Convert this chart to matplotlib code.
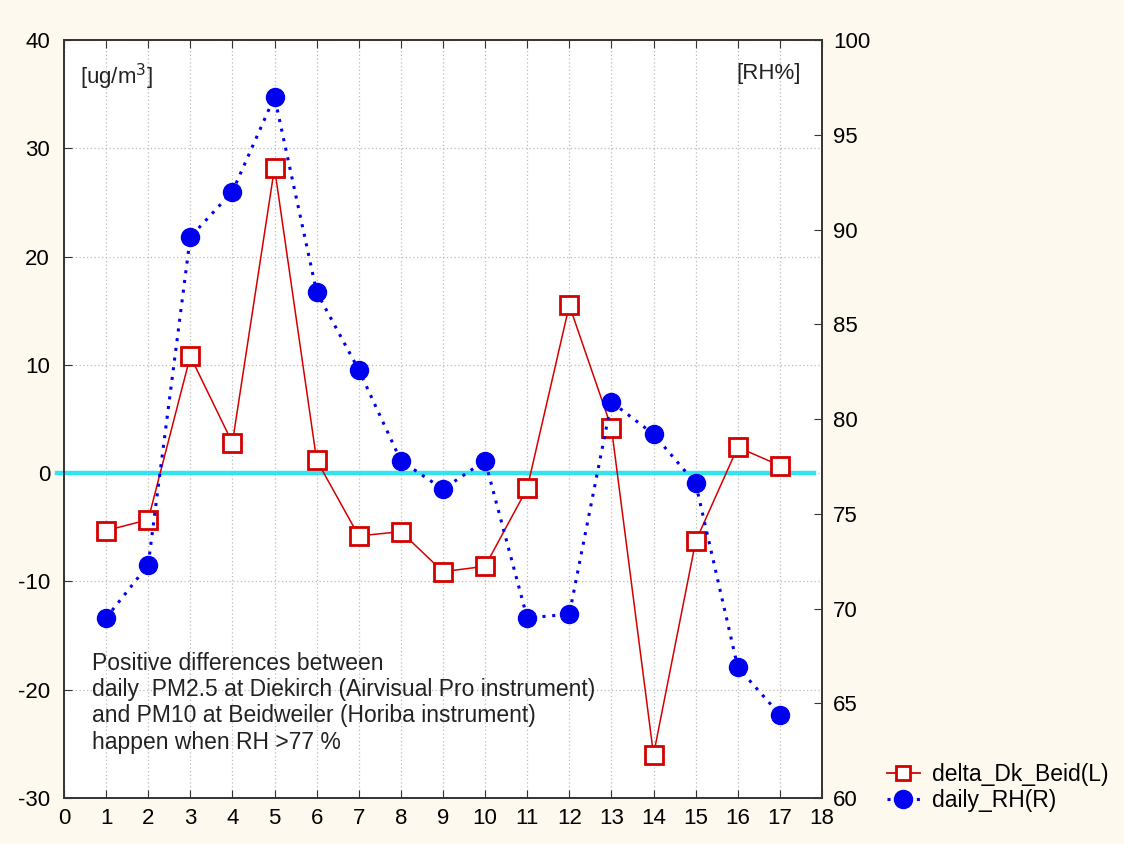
import matplotlib
matplotlib.use("Agg")
import matplotlib.pyplot as plt
from matplotlib.lines import Line2D

plt.rcParams['font.family'] = ['Liberation Sans', 'DejaVu Sans']
plt.rcParams['axes.unicode_minus'] = False

days = list(range(1, 18))
delta_dk_beid = [-5.3, -4.3, 10.8, 2.8, 28.2, 1.2, -5.8, -5.4, -9.1, -8.6,
                 -1.4, 15.5, 4.2, -26.0, -6.3, 2.4, 0.7]
daily_rh = [69.5, 72.3, 89.6, 92.0, 97.0, 86.7, 82.6, 77.8, 76.3, 77.8,
            69.5, 69.7, 80.9, 79.2, 76.6, 66.9, 64.4]
x_ticks = list(range(0, 19))
left_ticks = [-30, -20, -10, 0, 10, 20, 30, 40]
right_ticks = [60, 65, 70, 75, 80, 85, 90, 95, 100]

bg = '#FEF9EF'
red = '#D40000'
blue = '#0000F0'
cyan = '#33E3EE'

fig = plt.figure(figsize=(11.24, 8.44), dpi=100, facecolor=bg)
ax = fig.add_axes([0.0569, 0.0545, 0.6744, 0.8981])
ax.set_facecolor('white')
ax2 = ax.twinx()

ax.set_xlim(0, 18)
ax.set_ylim(-30, 40)
ax2.set_ylim(60, 100)
ax.set_xticks(x_ticks)
ax.set_yticks(left_ticks)
ax2.set_yticks(right_ticks)

ax.grid(True, color='#BBBBBB', linestyle=(0, (1, 2)), linewidth=0.9)
ax.set_axisbelow(True)

ax.tick_params(axis='x', direction='in', top=True, length=6, labelsize=16, pad=7, color='#333333')
ax.tick_params(axis='y', direction='in', length=6, labelsize=16, pad=10, color='#333333')
ax2.tick_params(axis='y', direction='in', length=6, labelsize=16, pad=8, color='#333333')
for a in (ax, ax2):
    for s in a.spines.values():
        s.set_color('#333333')
        s.set_linewidth(1.2)

# zero reference line
ax.plot([-0.17, 17.8], [0, 0], color=cyan, linewidth=3.2, clip_on=False, zorder=2)

ax.plot(days, delta_dk_beid, color=red, linewidth=1.1, marker='s', markersize=13,
        markerfacecolor='white', markeredgecolor=red, markeredgewidth=2, zorder=4)
ax2.plot(days, daily_rh, color=blue, linewidth=2.2, linestyle=(0, (1, 2.2)),
         marker='o', markersize=13, markerfacecolor=blue, markeredgecolor=blue, zorder=4)

ax.text(0.38, 36.6, '[ug/m$^3$]', fontsize=16, va='center', ha='left', color='#222222')
ax.text(17.5, 36.9, '[RH%]', fontsize=16, va='center', ha='right', color='#222222')

ax.text(0.66, -16.5,
        'Positive differences between\n'
        'daily  PM2.5 at Diekirch (Airvisual Pro instrument)\n'
        'and PM10 at Beidweiler (Horiba instrument)\n'
        'happen when RH >77 %',
        fontsize=16.5, va='top', ha='left', linespacing=1.18, color='#222222')

handles = [
    Line2D([0], [0], color=red, linewidth=1.3, marker='s', markersize=10,
           markerfacecolor='white', markeredgecolor=red, markeredgewidth=2),
    Line2D([0], [0], color=blue, linewidth=2.2, linestyle=(0, (1, 2.2)),
           marker='o', markersize=13, markerfacecolor=blue, markeredgecolor=blue),
]
fig.legend(handles, ['delta_Dk_Beid(L)', 'daily_RH(R)'], loc='upper left',
           bbox_to_anchor=(0.789, 0.096), frameon=False, fontsize=16.5,
           handlelength=1.45, handletextpad=0.5, labelspacing=0.14, borderpad=0,
           borderaxespad=0)

fig.savefig('out.png', dpi=100, facecolor=bg)
